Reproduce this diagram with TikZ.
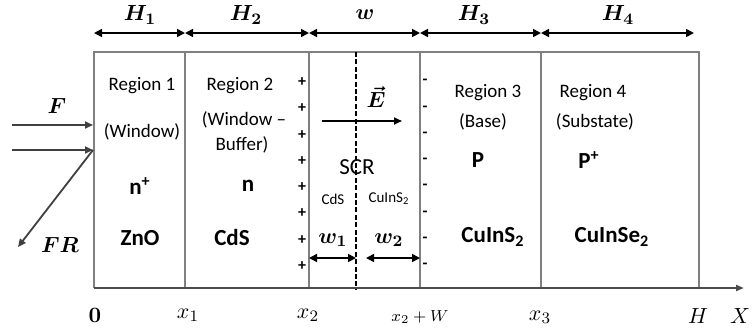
\documentclass[tikz,border=0pt]{standalone}
\usepackage{fontspec}
\setsansfont{Carlito}
\usepackage{amsmath}
\usetikzlibrary{arrows.meta,positioning,calc}

\begin{document}
\begin{tikzpicture}[
  x=0.5pt, y=-0.5pt,
  font=\sffamily,
  wall/.style={draw=black!50, line width=1pt},
  dim/.style={{Triangle[length=4pt,width=4pt]}-{Triangle[length=4pt,width=4pt]}, line width=0.8pt},
  ray/.style={-{Triangle[length=4pt,width=3.5pt]}, draw=black!75, line width=0.9pt},
  reg/.style={font=\sffamily\fontsize{9.5}{10}\selectfont, inner sep=1pt},
  mat/.style={font=\sffamily\bfseries\fontsize{11.5}{12}\selectfont, inner sep=1pt},
  small/.style={font=\sffamily\fontsize{7.5}{8}\selectfont, inner sep=1pt},
  lab/.style={font=\fontsize{11}{12}\selectfont, inner sep=1pt},
  blab/.style={font=\boldmath\fontsize{11}{12}\selectfont, inner sep=1pt},
  chg/.style={font=\sffamily\bfseries\fontsize{8}{8}\selectfont, inner sep=0pt},
]
\useasboundingbox (0,0) rectangle (752,328);

% layer boundaries
\foreach \n/\px in {a/94,b/185,c/309,d/420,e/541,f/699} {
  \coordinate (\n t) at (\px,52);
  \coordinate (\n b) at (\px,288);
  \coordinate (\n d) at (\px,33);
}
\coordinate (ax) at (744,288);
\coordinate (mt) at (356,52);
\coordinate (mb) at (356,290);

\draw[wall] (ab) -- (at) -- (ft) -- (fb);
\foreach \n in {b,c,d,e} { \draw[wall] (\n t) -- (\n b); }
\draw[wall, draw=black!70, -{Triangle[length=4pt,width=3pt]}] (ab) -- (ax);
\draw[dashed, dash pattern=on 2.5pt off 1.2pt, line width=1.1pt] (mt) -- (mb);

% thicknesses
\draw[dim] (ad) -- (bd);
\draw[dim] (bd) -- (cd);
\draw[dim] (cd) -- (dd);
\draw[dim] (dd) -- (ed);
\draw[dim] (ed) -- ($(fd)+(-5,0)$);
\node[blab] (h1) at (140,15) {$H_1$};
\node[blab] (h2) at (246,15) {$H_2$};
\node[blab] (hw) at (365,15) {$w$};
\node[blab] (h3) at (474,15) {$H_3$};
\node[blab] (h4) at (618,15) {$H_4$};

% incident and reflected light
\coordinate (f1s) at (12,125);
\coordinate (f1e) at (93,125);
\coordinate (f2s) at (12,150);
\coordinate (f2e) at (93,150);
\coordinate (fr) at (18,247);
\draw[ray] (f1s) -- (f1e);
\draw[ray] (f2s) -- (f2e);
\draw[ray] (f2e) -- (fr);
\node[blab] (F) at (57,106) {$F$};
\node[blab] (FR) at (60,245) {$FR$};

% region 1
\node[reg] (r1) at (142,86) {Region 1};
\node[reg] (r1b) at (142,132) {(Window)};
\node[mat] (r1c) at (140,186) {n\textsuperscript{+}};
\node[mat] (r1m) at (140,238) {ZnO};

% region 2
\node[reg] (r2) at (240,86) {Region 2};
\node[reg] (r2b) at (244,120) {(Window --};
\node[reg] (r2c) at (242,145) {Buffer)};
\node[mat] (r2d) at (248,186) {n};
\node[mat] (r2m) at (232,238) {CdS};

% space charge region
\foreach \i in {0,...,7} {
  \node[chg] (p\i) at (302,{82+26.3*\i}) {+};
  \node[chg] (m\i) at (425,{82+26.3*\i}) {-};
}
\coordinate (ea) at (322,121);
\coordinate (eb) at (402,121);
\draw[-{Triangle[length=4pt,width=3.5pt]}, line width=0.9pt] (ea) -- (eb);
\node[blab] (E) at (376,97) {$\vec{E}$};
\node[reg, font=\sffamily\fontsize{11.5}{12}\selectfont] (scr) at (357,167) {SCR};
\node[small] (s1) at (333,199) {CdS};
\node[small] (s2) at (389,199) {CuInS\textsubscript{2}};
\node[blab] (w1) at (333,240) {$w_1$};
\node[blab] (w2) at (389,240) {$w_2$};
\coordinate (w1a) at (309,258);
\coordinate (w1b) at (356,258);
\coordinate (w2a) at (366,258);
\coordinate (w2b) at (420,258);
\draw[dim] (w1a) -- (w1b);
\draw[dim] (w2a) -- (w2b);

% region 3
\node[reg] (r3) at (488,93) {Region 3};
\node[reg] (r3b) at (483,122) {(Base)};
\node[mat] (r3c) at (478,160) {P};
\node[mat] (r3m) at (493,237) {CuInS\textsubscript{2}};

% region 4
\node[reg] (r4) at (593,93) {Region 4};
\node[reg] (r4b) at (595,122) {(Substate)};
\node[mat] (r4c) at (589,160) {P\textsuperscript{+}};
\node[mat] (r4m) at (612,237) {CuInSe\textsubscript{2}};

% positions
\node[blab] (l0) at (95,315) {$0$};
\node[lab] (l1) at (188,315) {$x_1$};
\node[lab] (l2) at (308,315) {$x_2$};
\node[lab, font=\fontsize{8.5}{9}\selectfont] (l2w) at (420,317) {$x_2+W$};
\node[lab] (l3) at (540,317) {$x_3$};
\node[lab] (lH) at (698,316) {$H$};
\node[lab] (lX) at (740,316) {$X$};
\end{tikzpicture}
\end{document}
